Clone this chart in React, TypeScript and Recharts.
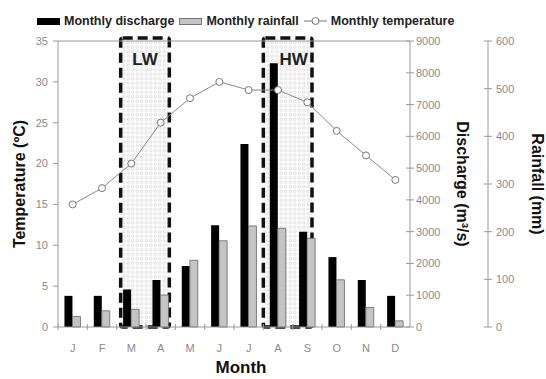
import {
  ComposedChart,
  Bar,
  Line,
  XAxis,
  YAxis,
  ReferenceArea,
  ReferenceLine,
  Legend,
} from "recharts";

const FONT = "'Liberation Sans', Arial, sans-serif";

// months (unique keys) and the letters printed under the axis
const months = ["Jan", "Feb", "Mar", "Apr", "May", "Jun", "Jul", "Aug", "Sep", "Oct", "Nov", "Dec"];
const monthInitials = ["J", "F", "M", "A", "M", "J", "J", "A", "S", "O", "N", "D"];

const discharge = [980, 980, 1180, 1480, 1920, 3200, 5760, 8300, 3000, 2200, 1480, 980]; // m3/s
const rainfall = [22, 34, 37, 67, 140, 181, 212, 207, 186, 99, 41, 13]; // mm
const temperature = [15, 17, 20, 25, 28, 30, 29, 29, 27.5, 24, 21, 18]; // °C

const tempTicks = [0, 5, 10, 15, 20, 25, 30, 35];
const dischargeTicks = [0, 1000, 2000, 3000, 4000, 5000, 6000, 7000, 8000, 9000];
const rainTicks = [0, 100, 200, 300, 400, 500, 600];

// low water / high water periods
const lowWater = { label: "LW", from: "Mar", to: "Apr" };
const highWater = { label: "HW", from: "Aug", to: "Sep" };

const data = months.map((m, i) => ({
  month: m,
  discharge: discharge[i],
  rainfall: rainfall[i],
  temperature: temperature[i],
}));

const tickStyle = { fontSize: 11, fill: "#8a8a8a", fontFamily: FONT };
const axisColor = "#9a9a9a";

function SeasonBox(props: any) {
  const { x, y, width, height, label, id, padLeft, padRight, labelShift } = props;
  const left = x + padLeft;
  const w = width - padLeft - padRight;
  return (
    <g>
      <defs>
        <pattern id={id} width={4.5} height={4.5} patternUnits="userSpaceOnUse">
          <circle cx={2.25} cy={2.25} r={1.3} fill="none" stroke="#c6c6c6" strokeWidth={0.6} />
        </pattern>
      </defs>
      <rect
        x={left}
        y={y - 3}
        width={w}
        height={height + 3}
        fill={`url(#${id})`}
        stroke="#111"
        strokeWidth={3.5}
        strokeDasharray="10 5"
        rx={2}
      />
      <text
        x={left + w / 2 + labelShift}
        y={y + 24}
        textAnchor="middle"
        fontFamily={FONT}
        fontWeight="bold"
        fontSize={17}
        fill="#222"
      >
        {label}
      </text>
    </g>
  );
}

function XTick(props: any) {
  const { x, y, payload, index } = props;
  const half = payload?.offset ?? 14.7;
  return (
    <g>
      <line x1={x - half} x2={x - half} y1={y - 3} y2={y + 3} stroke={axisColor} />
      <text x={x} y={y + 21} textAnchor="middle" dominantBaseline="central" {...tickStyle}>
        {monthInitials[index]}
      </text>
    </g>
  );
}

// right-hand axes: tick mark crosses the axis line, label to the right
function crossTick(gap: number) {
  return (props: any) => {
    const { x, y, payload } = props;
    return (
      <g>
        <line x1={x - 4} x2={x + 4} y1={y} y2={y} stroke={axisColor} />
        <text x={x + gap} y={y} dominantBaseline="central" {...tickStyle}>
          {payload.value}
        </text>
      </g>
    );
  };
}

function axisTitle(text: string, dx: number, angle: number) {
  return ({ viewBox }: any) => {
    const cx = viewBox.x + dx;
    const cy = viewBox.y + viewBox.height / 2;
    return (
      <text
        x={cx}
        y={cy}
        transform={`rotate(${angle}, ${cx}, ${cy})`}
        textAnchor="middle"
        dominantBaseline="central"
        fontFamily={FONT}
        fontWeight="bold"
        fontSize={16}
        fill="#111"
      >
        {text}
      </text>
    );
  };
}

const legendIcons: Record<string, any> = {
  discharge: <span style={{ width: 23, height: 7, background: "#000", display: "inline-block" }} />,
  rainfall: (
    <span
      style={{
        width: 21,
        height: 5,
        background: "#c4c4c4",
        border: "1px solid #777",
        display: "inline-block",
      }}
    />
  ),
  temperature: (
    <svg width={23} height={10}>
      <line x1={0} x2={23} y1={5} y2={5} stroke="#777" />
      <circle cx={11.5} cy={5} r={3.5} fill="#fff" stroke="#777" />
    </svg>
  ),
};

function LegendContent({ payload }: any) {
  return (
    <div
      style={{
        display: "flex",
        alignItems: "center",
        fontFamily: FONT,
        fontWeight: "bold",
        fontSize: 12.5,
        color: "#222",
        whiteSpace: "nowrap",
      }}
    >
      {(payload || []).map((p: any) => (
        <span key={p.dataKey} style={{ display: "flex", alignItems: "center", marginRight: 5 }}>
          {legendIcons[p.dataKey]}
          <span style={{ marginLeft: 4 }}>{p.value}</span>
        </span>
      ))}
    </div>
  );
}

export default function App() {
  return (
    <div style={{ position: "absolute", left: 0, top: 0, background: "#fff" }}>
      <ComposedChart
        width={546}
        height={379}
        data={data}
        margin={{ top: 41, right: 0, left: 0, bottom: 12 }}
        barCategoryGap="22%"
        barGap={0}
      >
        <XAxis
          dataKey="month"
          xAxisId="m"
          height={40}
          stroke={axisColor}
          tickLine={false}
          tickSize={0}
          tickMargin={0}
          tick={<XTick />}
          interval={0}
          label={{ content: ({ viewBox }: any) => (
            <text
              x={viewBox.x + viewBox.width / 2 + 7}
              y={viewBox.y + 40}
              textAnchor="middle"
              dominantBaseline="central"
              fontFamily={FONT}
              fontWeight="bold"
              fontSize={17}
              fill="#111"
            >
              Month
            </text>
          ) }}
        />
        <YAxis
          yAxisId="temp"
          width={58}
          domain={[0, 35]}
          ticks={tempTicks}
          stroke={axisColor}
          tickSize={5}
          tickMargin={5}
          tick={tickStyle}
          label={{ content: axisTitle("Temperature (ºC)", 19, -90) }}
        />
        <YAxis
          yAxisId="discharge"
          orientation="right"
          width={78}
          domain={[0, 9000]}
          ticks={dischargeTicks}
          stroke={axisColor}
          tickLine={false}
          tickSize={0}
          tickMargin={0}
          tick={crossTick(6)}
          label={{ content: axisTitle("Discharge (m³/s)", 52, 90) }}
        />
        <YAxis
          yAxisId="rain"
          orientation="right"
          width={58}
          domain={[0, 600]}
          ticks={rainTicks}
          stroke={axisColor}
          tickLine={false}
          tickSize={0}
          tickMargin={0}
          tick={crossTick(8)}
          label={{ content: axisTitle("Rainfall (mm)", 49, 90) }}
        />
        <ReferenceLine xAxisId="m" yAxisId="temp" y={35} stroke={axisColor} />
        <ReferenceArea
          xAxisId="m"
          yAxisId="temp"
          x1={lowWater.from}
          x2={lowWater.to}
          y1={0}
          y2={35}
          shape={(p: any) => (
            <SeasonBox {...p} id="dotsLW" label={lowWater.label} padLeft={4} padRight={6} labelShift={0} />
          )}
        />
        <ReferenceArea
          xAxisId="m"
          yAxisId="temp"
          x1={highWater.from}
          x2={highWater.to}
          y1={0}
          y2={35}
          shape={(p: any) => (
            <SeasonBox {...p} id="dotsHW" label={highWater.label} padLeft={0} padRight={10} labelShift={6} />
          )}
        />
        <Bar
          xAxisId="m"
          yAxisId="discharge"
          dataKey="discharge"
          name="Monthly discharge"
          fill="#000"
          isAnimationActive={false}
        />
        <Bar
          xAxisId="m"
          yAxisId="rain"
          dataKey="rainfall"
          name="Monthly rainfall"
          fill="#c4c4c4"
          stroke="#666"
          strokeWidth={0.8}
          isAnimationActive={false}
        />
        <Line
          xAxisId="m"
          yAxisId="temp"
          dataKey="temperature"
          name="Monthly temperature"
          stroke="#8a8a8a"
          strokeWidth={1}
          dot={{ r: 3.5, fill: "#fff", stroke: "#777", strokeWidth: 1 }}
          isAnimationActive={false}
        />
        <Legend
          verticalAlign="middle"
          align="center"
          wrapperStyle={{ top: 14, left: 37, width: "auto" }}
          content={<LegendContent />}
        />
      </ComposedChart>
    </div>
  );
}
